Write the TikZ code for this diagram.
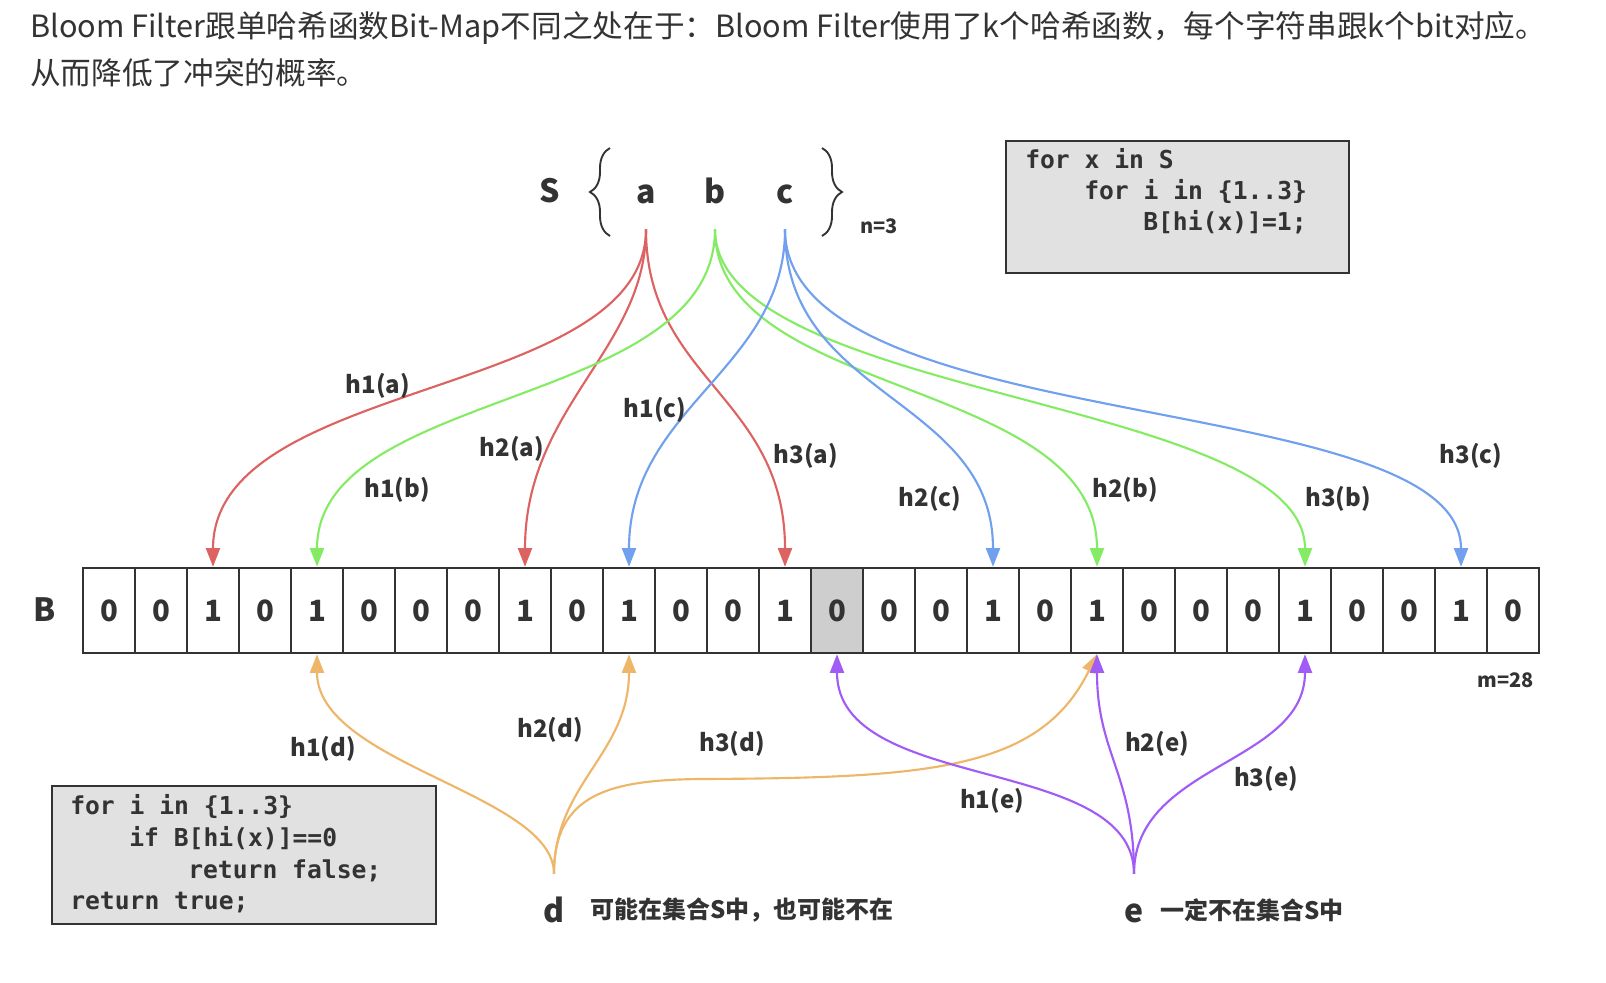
\documentclass[tikz,border=0pt]{standalone}
\usepackage{fontspec}
\setmainfont{Noto Sans CJK SC}
\newfontfamily\codefont{DejaVu Sans Mono}
\usetikzlibrary{arrows.meta, decorations.pathreplacing}

\definecolor{hred}{RGB}{221,99,99}
\definecolor{hgreen}{RGB}{132,236,100}
\definecolor{hblue}{RGB}{112,160,238}
\definecolor{horange}{RGB}{238,182,104}
\definecolor{hpurple}{RGB}{160,92,244}
\definecolor{ink}{RGB}{51,51,51}
\definecolor{boxgray}{RGB}{225,225,225}
\definecolor{cellgray}{RGB}{206,206,206}

\tikzset{
  headtext/.style={font=\fontsize{23pt}{28pt}\selectfont, text=ink, inner sep=0pt, anchor=west},
  letter/.style={font=\fontsize{24pt}{28pt}\selectfont\bfseries, text=ink, inner sep=0pt, text height=17pt, text depth=0pt},
  elem/.style={letter, minimum height=55.5pt},
  bitcell/.style={draw=ink, line width=1.8pt, minimum width=39pt, minimum height=63.75pt, inner sep=0pt, font=\fontsize{22pt}{26pt}\selectfont\bfseries, text=ink},
  hlab/.style={font=\fontsize{18pt}{22pt}\selectfont\bfseries, text=ink, inner sep=0pt},
  hash/.style={line width=1.6pt, -{Triangle[width=10.5pt,length=14pt]}},
  codebox/.style={draw=ink, line width=2pt, fill=boxgray, inner sep=0pt},
  codeline/.style={font=\codefont\bfseries\fontsize{18.5pt}{22pt}\selectfont, text=ink, anchor=base west, inner sep=0pt},
  sizenote/.style={font=\fontsize{15pt}{18pt}\selectfont\bfseries, text=ink, inner sep=0pt},
  note/.style={font=\fontsize{18pt}{21pt}\selectfont\bfseries, text=ink, inner sep=0pt, anchor=west},
  setbrace/.style={draw=ink, line width=1.4pt, decorate, decoration={brace, amplitude=15pt}}
}

\begin{document}
\begin{tikzpicture}[x=0.75pt, y=-0.75pt]
\useasboundingbox (0,0) rectangle (1606,982);

% text above the picture
\node[headtext] (head1) at (30,28) {Bloom Filter跟单哈希函数Bit-Map不同之处在于：Bloom Filter使用了k个哈希函数，每个字符串跟k个bit对应。};
\node[headtext] (head2) at (30,73) {从而降低了冲突的概率。};

% the set S
\node[letter] (setS) at (550,191) {S};
\draw[setbrace] (610,236) -- (610,148);
\draw[setbrace] (822,148) -- (822,236);
\node[elem] (a) at (646,192) {a};
\node[elem] (b) at (715,192) {b};
\node[elem] (c) at (785,192) {c};
\node[sizenote] (nS) at (879,226) {n=3};

% bit array B
\node[letter] (arrB) at (45,610) {B};
\fill[cellgray] (811,568) rectangle (863,653);
\foreach \v [count=\i from 0] in {0,0,1,0,1,0,0,0,1,0,1,0,0,1,0,0,0,1,0,1,0,0,0,1,0,0,1,0}
  \node[bitcell] (bit\i) at ({83+52*(\i+0.5)},610.5) {\v};
\node[sizenote] (mB) at (1506,680) {m=28};

% insert code
\node[codebox, minimum width=257.25pt, minimum height=99pt] (insertbox) at (1177.5,207) {};
\node[codeline] (ins1) at (1025,168) {for x in S};
\node[codeline] (ins2) at (1084,199) {for i in \{1..3\}};
\node[codeline] (ins3) at (1143,230) {B[hi(x)]=1;};

% hashes of a, b, c
\draw[hash, hred] (a.south) .. controls +(0,170) and +(0,-190) .. (bit2.north);
\draw[hash, hred] (a.south) .. controls +(0,120) and +(0,-160) .. (bit8.north);
\draw[hash, hred] (a.south) .. controls +(0,150) and +(0,-170) .. (bit13.north);
\draw[hash, hgreen] (b.south) .. controls +(0,180) and +(0,-180) .. (bit4.north);
\draw[hash, hgreen] (b.south) .. controls +(0,170) and +(0,-190) .. (bit19.north);
\draw[hash, hgreen] (b.south) .. controls +(0,170) and +(0,-170) .. (bit23.north);
\draw[hash, hblue] (c.south) .. controls +(0,140) and +(0,-160) .. (bit10.north);
\draw[hash, hblue] (c.south) .. controls +(0,170) and +(0,-170) .. (bit17.north);
\draw[hash, hblue] (c.south) .. controls +(0,210) and +(0,-180) .. (bit26.north);

\node[hlab] (la1) at (378,386) {h1(a)};
\node[hlab] (la2) at (512,449) {h2(a)};
\node[hlab] (la3) at (806,456) {h3(a)};
\node[hlab] (lb1) at (397,490) {h1(b)};
\node[hlab] (lb2) at (1125,490) {h2(b)};
\node[hlab] (lb3) at (1338,499) {h3(b)};
\node[hlab] (lc1) at (655,410) {h1(c)};
\node[hlab] (lc2) at (930,499) {h2(c)};
\node[hlab] (lc3) at (1471,456) {h3(c)};

% queries d and e
\node[elem] (d) at (554,911) {d};
\node[note] (dnote) at (590,910) {可能在集合S中，也可能不在};
\node[elem] (e) at (1134,911) {e};
\node[note] (enote) at (1160,910) {一定不在集合S中};

\draw[hash, horange] (d.north) .. controls +(0,-80) and +(0,110) .. (bit4.south);
\draw[hash, horange] (d.north) .. controls +(0,-90) and +(0,100) .. (bit10.south);
\draw[hash, horange] (d.north) .. controls +(0,-80) and (610,780) .. (700,779)
  .. controls (930,778) and (1040,770) .. (bit19.south);
\draw[hash, hpurple] (e.north) .. controls +(0,-120) and +(0,140) .. (bit14.south);
\draw[hash, hpurple] (e.north) .. controls +(0,-100) and +(0,100) .. (bit19.south);
\draw[hash, hpurple] (e.north) .. controls +(0,-110) and +(0,110) .. (bit23.south);

\node[hlab] (ld1) at (323,749) {h1(d)};
\node[hlab] (ld2) at (550,730) {h2(d)};
\node[hlab] (ld3) at (732,744) {h3(d)};
\node[hlab] (le1) at (992,801) {h1(e)};
\node[hlab] (le2) at (1157,744) {h2(e)};
\node[hlab] (le3) at (1266,779) {h3(e)};

% query code
\node[codebox, minimum width=288pt, minimum height=103.5pt] (querybox) at (244,855) {};
\node[codeline] (qry1) at (70,814) {for i in \{1..3\}};
\node[codeline] (qry2) at (129,846) {if B[hi(x)]==0};
\node[codeline] (qry3) at (188,878) {return false;};
\node[codeline] (qry4) at (70,909) {return true;};

\end{tikzpicture}
\end{document}
